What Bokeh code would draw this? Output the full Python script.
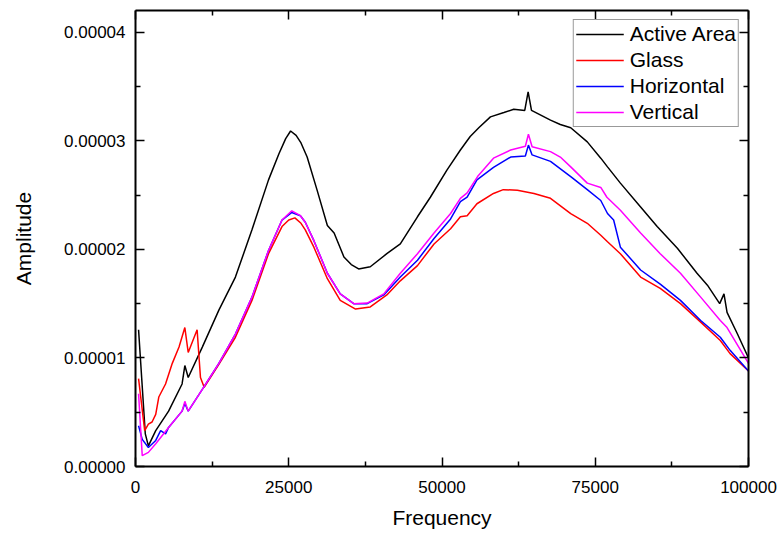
from bokeh.plotting import figure
from bokeh.models import Range1d, LinearAxis, FixedTicker, PrintfTickFormatter, Legend, LegendItem
from bokeh.embed import file_html
from bokeh.resources import INLINE

# ---------------- data ----------------
freq_active = [500, 1600, 2100, 3300, 5400, 7600, 8050, 8600, 10900, 13600, 16300, 19000,
               21700, 23400, 24500, 25300, 26200, 27000, 28000, 29600, 31300, 32400, 34000,
               35200, 36400, 38300, 41000, 43200, 46000, 48100, 50800, 53000, 54600, 56000,
               57900, 60100, 61700, 63500, 64050, 64600, 67700, 69300, 71000, 73700, 75900,
               77000, 79100, 82400, 85100, 88400, 91600, 93300, 95300, 96000, 96500, 98200,
               100000]
amp_active = [1.26e-5, 0.30e-5, 0.19e-5, 0.33e-5, 0.51e-5, 0.76e-5, 0.93e-5, 0.82e-5, 1.10e-5,
              1.44e-5, 1.745e-5, 2.18e-5, 2.64e-5, 2.88e-5, 3.02e-5, 3.09e-5, 3.05e-5, 2.98e-5,
              2.85e-5, 2.55e-5, 2.22e-5, 2.15e-5, 1.93e-5, 1.86e-5, 1.82e-5, 1.84e-5, 1.96e-5,
              2.05e-5, 2.30e-5, 2.48e-5, 2.73e-5, 2.915e-5, 3.04e-5, 3.12e-5, 3.22e-5, 3.26e-5,
              3.29e-5, 3.28e-5, 3.45e-5, 3.28e-5, 3.19e-5, 3.15e-5, 3.12e-5, 2.99e-5, 2.84e-5,
              2.76e-5, 2.61e-5, 2.39e-5, 2.21e-5, 2.01e-5, 1.78e-5, 1.67e-5, 1.50e-5, 1.59e-5,
              1.42e-5, 1.22e-5, 1.00e-5]

freq_glass = [500, 1500, 2100, 2700, 3300, 3800, 4900, 6000, 7100, 8050, 8600, 10050, 10600,
              11200, 13600, 16300, 19000, 21700, 23900, 25000, 26000, 27000, 27700, 29100,
              31300, 33400, 35900, 38300, 41000, 43200, 46000, 48700, 51400, 53000, 54100,
              55700, 58400, 60000, 62300, 65000, 67700, 71000, 73700, 75900, 77000, 79100,
              82400, 85600, 88900, 92200, 95400, 97000, 100000]
amp_glass = [0.81e-5, 0.33e-5, 0.39e-5, 0.41e-5, 0.48e-5, 0.64e-5, 0.76e-5, 0.95e-5, 1.10e-5,
             1.28e-5, 1.05e-5, 1.26e-5, 0.82e-5, 0.73e-5, 0.94e-5, 1.19e-5, 1.53e-5, 1.96e-5,
             2.21e-5, 2.27e-5, 2.29e-5, 2.24e-5, 2.18e-5, 2.02e-5, 1.73e-5, 1.53e-5, 1.45e-5,
             1.47e-5, 1.58e-5, 1.71e-5, 1.85e-5, 2.05e-5, 2.19e-5, 2.30e-5, 2.31e-5, 2.42e-5,
             2.515e-5, 2.55e-5, 2.545e-5, 2.515e-5, 2.47e-5, 2.33e-5, 2.24e-5, 2.13e-5,
             2.07e-5, 1.96e-5, 1.745e-5, 1.64e-5, 1.50e-5, 1.33e-5, 1.16e-5, 1.04e-5, 0.88e-5]

freq_horizontal = [500, 1100, 2100, 3300, 4100, 4900, 5400, 7600, 8050, 8600, 10900, 13600,
                   16300, 19000, 21700, 23900, 25500, 26900, 27700, 29100, 31300, 33400, 35600,
                   37800, 40500, 43200, 46000, 48700, 51400, 53000, 54100, 55700, 58400, 61200,
                   63600, 64100, 64700, 67700, 71000, 73700, 75900, 77000, 78000, 79100, 82400,
                   85600, 88900, 92200, 95400, 97000, 100000]
amp_horizontal = [0.375e-5, 0.25e-5, 0.175e-5, 0.24e-5, 0.33e-5, 0.30e-5, 0.36e-5, 0.51e-5,
                  0.58e-5, 0.51e-5, 0.71e-5, 0.95e-5, 1.22e-5, 1.56e-5, 1.99e-5, 2.27e-5,
                  2.34e-5, 2.31e-5, 2.25e-5, 2.08e-5, 1.78e-5, 1.59e-5, 1.50e-5, 1.50e-5,
                  1.58e-5, 1.745e-5, 1.90e-5, 2.10e-5, 2.28e-5, 2.44e-5, 2.48e-5, 2.64e-5,
                  2.755e-5, 2.85e-5, 2.86e-5, 2.96e-5, 2.87e-5, 2.81e-5, 2.67e-5, 2.55e-5,
                  2.45e-5, 2.33e-5, 2.27e-5, 2.02e-5, 1.81e-5, 1.68e-5, 1.53e-5, 1.345e-5,
                  1.19e-5, 1.07e-5, 0.88e-5]

freq_vertical = [500, 1100, 2100, 3300, 5400, 7600, 8050, 8600, 10900, 13600, 16300, 19000,
                 21700, 23900, 25500, 26900, 27700, 29100, 31300, 33400, 35600, 37800, 40500,
                 43200, 46000, 48700, 51400, 53000, 54100, 55800, 58400, 61200, 63600, 64100,
                 64700, 67700, 69300, 71000, 73700, 75900, 76900, 79100, 82400, 85600, 88900,
                 92200, 95400, 96500, 100000]
amp_vertical = [0.67e-5, 0.10e-5, 0.13e-5, 0.21e-5, 0.36e-5, 0.51e-5, 0.60e-5, 0.51e-5,
                0.71e-5, 0.95e-5, 1.22e-5, 1.56e-5, 1.99e-5, 2.27e-5, 2.355e-5, 2.31e-5,
                2.25e-5, 2.08e-5, 1.78e-5, 1.59e-5, 1.50e-5, 1.505e-5, 1.59e-5, 1.78e-5,
                1.96e-5, 2.15e-5, 2.33e-5, 2.47e-5, 2.52e-5, 2.67e-5, 2.84e-5, 2.915e-5,
                2.95e-5, 3.06e-5, 2.945e-5, 2.90e-5, 2.85e-5, 2.76e-5, 2.61e-5, 2.57e-5,
                2.48e-5, 2.36e-5, 2.15e-5, 1.96e-5, 1.78e-5, 1.56e-5, 1.345e-5, 1.28e-5,
                0.95e-5]

x_ticks = [0, 25000, 50000, 75000, 100000]
x_minor_ticks = [12500, 37500, 62500, 87500]
y_ticks = [0.0, 1e-5, 2e-5, 3e-5, 4e-5]
y_minor_ticks = [0.5e-5, 1.5e-5, 2.5e-5, 3.5e-5]

series_names = ["Active Area", "Glass", "Horizontal", "Vertical"]
series_colors = ["#000000", "#ff0000", "#0000ff", "#ff00ff"]

FONT = "Liberation Sans"

p = figure(frame_width=613, frame_height=456,
           x_range=Range1d(0, 100000), y_range=Range1d(0, 4.2e-5),
           output_backend="svg", toolbar_location=None,
           min_border_left=135, min_border_right=30, min_border_top=10, min_border_bottom=64)
p.xgrid.visible = False
p.ygrid.visible = False
p.outline_line_color = None
p.background_fill_color = "white"
p.border_fill_color = "white"

renderers = []
for fx, ay, c in [(freq_active, amp_active, series_colors[0]),
                  (freq_glass, amp_glass, series_colors[1]),
                  (freq_horizontal, amp_horizontal, series_colors[2]),
                  (freq_vertical, amp_vertical, series_colors[3])]:
    renderers.append(p.line(fx, ay, line_color=c, line_width=1.5))


def style_axis(ax, ticks, minor, fmt, show_labels):
    ax.ticker = FixedTicker(ticks=ticks, minor_ticks=minor)
    ax.formatter = PrintfTickFormatter(format=fmt)
    ax.axis_line_color = "black"
    ax.axis_line_width = 2
    ax.major_tick_line_color = "black"
    ax.major_tick_line_width = 1.5
    ax.minor_tick_line_color = "black"
    ax.minor_tick_line_width = 1.5
    ax.major_tick_in = 9
    ax.major_tick_out = 0
    ax.minor_tick_in = 5
    ax.minor_tick_out = 0
    if show_labels:
        ax.major_label_text_font = FONT
        ax.major_label_text_font_size = "17px"
        ax.major_label_text_color = "black"
        ax.axis_label_text_font = FONT
        ax.axis_label_text_font_size = "21px"
        ax.axis_label_text_font_style = "normal"
        ax.axis_label_text_color = "black"
    else:
        ax.major_label_text_font_size = "0px"
        ax.major_label_text_color = None
        ax.major_label_standoff = 0
        ax.axis_label = None


xa = p.xaxis[0]
style_axis(xa, x_ticks, x_minor_ticks, "%d", True)
xa.axis_label = "Frequency"
xa.major_label_standoff = 14
xa.axis_label_standoff = 10

ya = p.yaxis[0]
style_axis(ya, y_ticks, y_minor_ticks, "%.5f", True)
ya.axis_label = "Amplitude"
ya.major_label_standoff = 10
ya.axis_label_standoff = 26

top_ax = LinearAxis()
style_axis(top_ax, x_ticks, x_minor_ticks, "%d", False)
p.add_layout(top_ax, "above")
right_ax = LinearAxis()
style_axis(right_ax, y_ticks, y_minor_ticks, "%.5f", False)
p.add_layout(right_ax, "right")

legend = Legend(items=[LegendItem(label=n, renderers=[r]) for n, r in zip(series_names, renderers)],
                location="top_right", margin=9)
legend.label_text_font = FONT
legend.label_text_font_size = "21px"
legend.label_text_color = "black"
legend.glyph_width = 48
legend.glyph_height = 20
legend.label_height = 20
legend.label_standoff = 6
legend.padding = 2
legend.spacing = 2
legend.border_line_color = "#333333"
legend.border_line_width = 1
legend.background_fill_alpha = 1
p.add_layout(legend, "center")

open("out.html", "w").write(file_html(p, INLINE))
